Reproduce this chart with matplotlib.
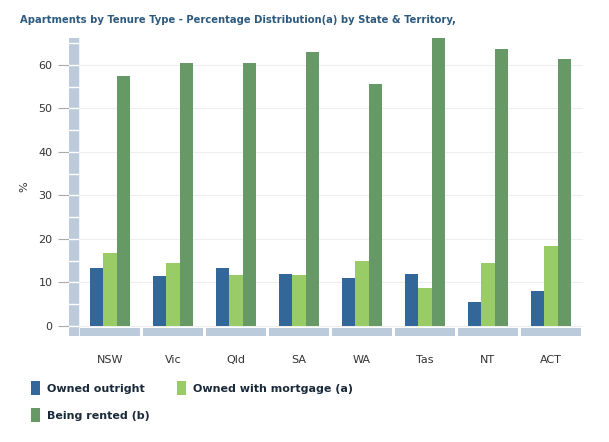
import matplotlib
matplotlib.use("Agg")
import matplotlib.pyplot as plt
import numpy as np

states = ["NSW", "Vic", "Qld", "SA", "WA", "Tas", "NT", "ACT"]
owned_outright = [13.3, 11.5, 13.3, 12.0, 11.0, 12.0, 5.6, 8.0]
owned_mortgage = [16.8, 14.5, 11.8, 11.8, 15.0, 8.8, 14.5, 18.4]
being_rented = [57.5, 60.5, 60.5, 63.0, 55.6, 66.2, 63.7, 61.4]

c_out = "#336699"
c_mort = "#99cc66"
c_rent = "#669966"
wall = "#bccbdb"

fig = plt.figure(figsize=(6.09, 4.42), dpi=100)
ax = fig.add_axes([69/609, 1-336/442, (583-69)/609, (336-38)/442])

x = np.arange(len(states))
w = 0.215
b1 = ax.bar(x - w, owned_outright, w, color=c_out, label="Owned outright", zorder=3)
b2 = ax.bar(x, owned_mortgage, w, color=c_mort, label="Owned with mortgage (a)", zorder=3)
b3 = ax.bar(x + w, being_rented, w, color=c_rent, label="Being rented (b)", zorder=3)

# floor blocks and left wall (pseudo 3d)
ax.bar(x, 1.9, 0.955, bottom=-2.3, color=wall, zorder=2)
ax.axvspan(-0.65, -0.5, color=wall, zorder=2)
for v in range(0, 66, 5):
    ax.plot([-0.65, -0.5], [v, v], color="white", lw=1, zorder=2.5)

ax.set_xlim(-0.65, 7.51)
ax.set_ylim(-2.3, 66.2)
ax.set_yticks(range(0, 61, 10))
ax.set_xticks(x)
ax.set_xticklabels(states)
for s in ax.spines.values():
    s.set_visible(False)
ax.tick_params(axis="y", length=8, color="#aaaaaa", labelsize=8, labelcolor="#333333", pad=4)
ax.tick_params(axis="x", length=0, labelsize=8, labelcolor="#333333", pad=14)
ax.grid(axis="y", color="#eeeeee", lw=0.8, zorder=0)
ax.set_ylabel("%", fontsize=8, color="#333333", labelpad=6)

fig.text(20/609, 1-20/442, "Apartments by Tenure Type - Percentage Distribution(a) by State & Territory,",
         fontsize=8.0, fontweight="bold", fontstretch="condensed", color="#2d5a7e", va="center")

leg = fig.legend([b1, b3, b2], ["Owned outright", "Being rented (b)", "Owned with mortgage (a)"],
                 loc="upper left", bbox_to_anchor=(0.035, 0.16), ncol=2, frameon=False,
                 prop={"size": 8, "weight": "bold"}, handlelength=0.8, handleheight=1.5,
                 handletextpad=0.6, columnspacing=2.5, labelspacing=1.2)
for t in leg.get_texts():
    t.set_color("#1a2a3a")

fig.savefig("out.png", dpi=100)
